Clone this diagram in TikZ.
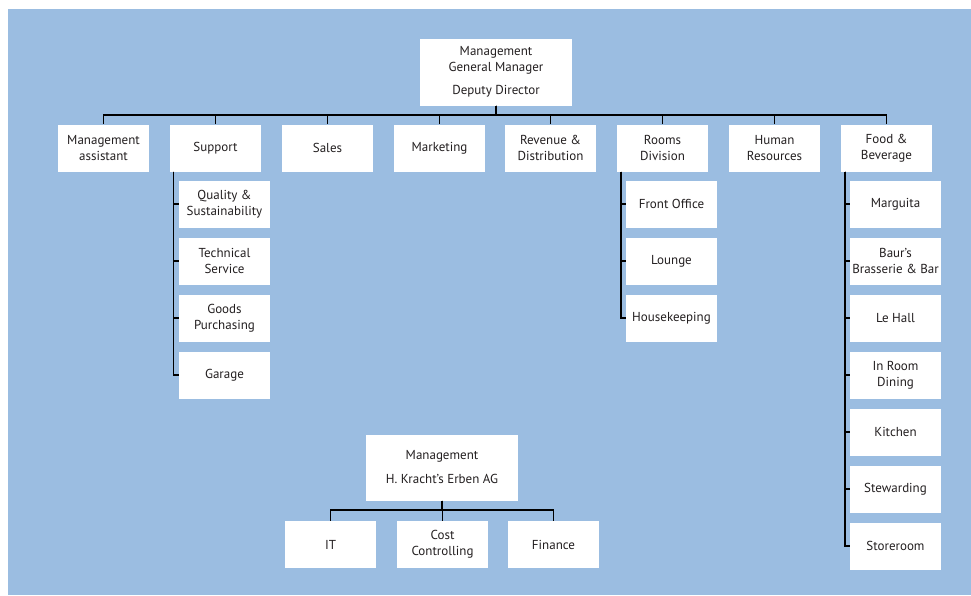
\documentclass[tikz,border=0pt]{standalone}
\usepackage{fontspec}
\setmainfont{PT Sans}
\definecolor{bgblue}{RGB}{155,189,225}
\definecolor{txt}{RGB}{35,31,32}
\begin{document}
\begin{tikzpicture}[x=1pt,y=-1pt,
  box/.style={fill=white, draw=none, minimum width=91pt, minimum height=47pt, inner sep=0pt,
    align=center, text=txt, font=\fontsize{13}{16}\selectfont},
  bigbox/.style={box, minimum width=152pt, minimum height=67pt},
  conn/.style={draw=black, line width=1.6pt}]
\useasboundingbox (0,0) rectangle (971,595);
\fill[white] (0,0) rectangle (971,595);
\fill[bgblue] (8,9) rectangle (971,595);

% top
\node[bigbox] (top) at (496,72) {Management\\General Manager\\[7pt]Deputy Director};
\node[box] (ma) at (103.5,148) {Management\\assistant};
\node[box] (sup) at (215.5,148) {Support};
\node[box] (sal) at (327.5,148) {Sales};
\node[box] (mkt) at (439.5,148) {Marketing};
\node[box] (rev) at (550.5,148) {Revenue \&\\Distribution};
\node[box] (rd) at (662.5,148) {Rooms\\Division};
\node[box] (hr) at (774.5,148) {Human\\Resources};
\node[box] (fb) at (886.5,148) {Food \&\\Beverage};

% support subs
\node[box] (s1) at (224.5,204) {Quality \&\\Sustainability};
\node[box] (s2) at (224.5,261) {Technical\\Service};
\node[box] (s3) at (224.5,318) {Goods\\Purchasing};
\node[box] (s4) at (224.5,375) {Garage};

% rooms subs
\node[box] (r1) at (671.5,204) {Front Office};
\node[box] (r2) at (671.5,261) {Lounge};
\node[box] (r3) at (671.5,318) {Housekeeping};

% F&B subs
\node[box] (f1) at (895.5,204) {Marguita};
\node[box] (f2) at (895.5,261) {Baur’s\\Brasserie \& Bar};
\node[box] (f3) at (895.5,318) {Le Hall};
\node[box] (f4) at (895.5,375) {In Room\\Dining};
\node[box] (f5) at (895.5,432) {Kitchen};
\node[box] (f6) at (895.5,489) {Stewarding};
\node[box] (f7) at (895.5,546) {Storeroom};

% bottom group
\node[bigbox, minimum height=66pt] (hk) at (442,467.5) {Management\\[8pt]H. Kracht’s Erben AG};
\node[box] (it) at (330.5,544.5) {IT};
\node[box] (cc) at (442.5,544.5) {Cost\\Controlling};
\node[box] (fin) at (553.5,544.5) {Finance};

% connectors
\foreach \c in {ma,sup,sal,mkt,rev,rd,hr,fb}
  \draw[conn] (top.south) -- ++(0,9.5) -| (\c.north);
\foreach \c in {s1,s2,s3,s4}
  \draw[conn] ([xshift=3.5pt]sup.south west) |- (\c.west);
\foreach \c in {r1,r2,r3}
  \draw[conn] ([xshift=4pt]rd.south west) |- (\c.west);
\foreach \c in {f1,f2,f3,f4,f5,f6,f7}
  \draw[conn] ([xshift=4pt]fb.south west) |- (\c.west);
\foreach \c in {it,cc,fin}
  \draw[conn] (hk.south) -- ++(0,9.5) -| (\c.north);
\end{tikzpicture}
\end{document}
